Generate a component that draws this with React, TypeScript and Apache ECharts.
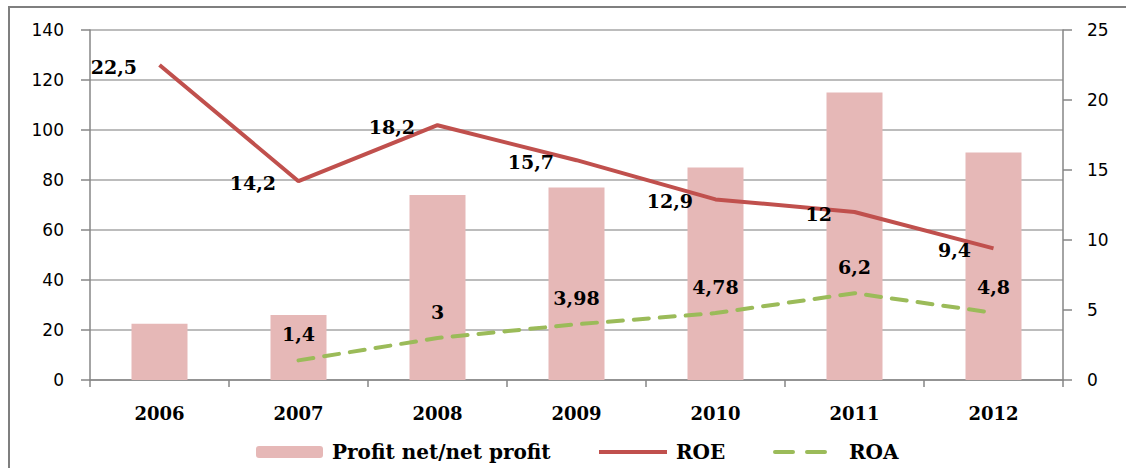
import React, { useEffect, useRef } from "react";
import * as echarts from "echarts";

const categories = ["2006", "2007", "2008", "2009", "2010", "2011", "2012"];
const profitValues = [22.5, 26, 74, 77, 85, 115, 91];
const roeValues = [22.5, 14.2, 18.2, 15.7, 12.9, 12, 9.4];
const roaValues: (number | null)[] = [null, 1.4, 3, 3.98, 4.78, 6.2, 4.8];
const roaLabels = ["", "1,4", "3", "3,98", "4,78", "6,2", "4,8"];
const roeLabels = ["22,5", "14,2", "18,2", "15,7", "12,9", "12", "9,4"];

const SERIF = "DejaVu Serif";
const SANS = "DejaVu Sans";

export default function App() {
  const ref = useRef<HTMLDivElement>(null);
  useEffect(() => {
    document.body.style.margin = "0";
    const chart = echarts.init(ref.current!, null, { renderer: "svg" });
    const labelStyle = {
      fontFamily: SERIF,
      fontWeight: "bold" as const,
      fontSize: 19,
      color: "#000",
    };
    const legendText = {
      fontFamily: SERIF,
      fontWeight: "bold" as const,
      fontSize: 20,
      color: "#000",
      padding: [0, 0, 0, 4],
    };
    chart.setOption({
      animation: false,
      backgroundColor: "#fff",
      graphic: [
        {
          type: "rect",
          shape: { x: 9, y: 7, width: 1300, height: 600 },
          style: { fill: "none", stroke: "#7f7f7f", lineWidth: 2 },
          silent: true,
        },
      ],
      grid: { left: 90, right: 63, top: 30, bottom: 88 },
      legend: [
        {
          data: ["Profit net/net profit"],
          left: 251,
          top: 437,
          itemWidth: 67,
          itemHeight: 12,
          textStyle: legendText,
        },
        {
          data: [
            {
              name: "ROE",
              itemStyle: { opacity: 0 },
              lineStyle: { width: 4, color: "#c0504d" },
            },
          ],
          left: 592,
          top: 437,
          itemWidth: 68,
          itemHeight: 12,
          textStyle: legendText,
        },
        {
          data: [
            {
              name: "ROA",
              itemStyle: { opacity: 0 },
              lineStyle: { width: 4, color: "#9bbb59", type: [18, 14], cap: "round" },
            },
          ],
          left: 768,
          top: 437,
          itemWidth: 60,
          itemHeight: 12,
          textStyle: { ...legendText, padding: [0, 0, 0, 9] },
        },
      ],
      xAxis: {
        type: "category",
        data: categories,
        axisLine: { lineStyle: { color: "#868686", width: 1.5 } },
        axisTick: { show: true, length: 7, lineStyle: { color: "#868686", width: 1.5 } },
        axisLabel: {
          margin: 24,
          fontFamily: SERIF,
          fontWeight: "bold",
          fontSize: 18,
          color: "#000",
        },
      },
      yAxis: [
        {
          type: "value",
          min: 0,
          max: 140,
          interval: 20,
          axisLine: { show: true, lineStyle: { color: "#868686", width: 1.5 } },
          axisTick: { show: true, length: 9, lineStyle: { color: "#868686", width: 1.5 } },
          splitLine: { lineStyle: { color: "#a6a6a6", width: 1.5 } },
          axisLabel: { margin: 26, fontFamily: SANS, fontSize: 17, color: "#000" },
        },
        {
          type: "value",
          min: 0,
          max: 25,
          interval: 5,
          position: "right",
          axisLine: { show: true, lineStyle: { color: "#868686", width: 1.5 } },
          axisTick: { show: true, length: 9, lineStyle: { color: "#868686", width: 1.5 } },
          splitLine: { show: false },
          axisLabel: { margin: 24, fontFamily: SANS, fontSize: 17, color: "#000" },
        },
      ],
      series: [
        {
          name: "Profit net/net profit",
          type: "bar",
          data: profitValues,
          yAxisIndex: 0,
          barWidth: 56,
          itemStyle: { color: "#e6b8b7" },
        },
        {
          name: "ROE",
          type: "line",
          data: roeValues,
          yAxisIndex: 1,
          symbol: "circle",
          symbolSize: 1,
          showSymbol: true,
          lineStyle: { color: "#c0504d", width: 4 },
          itemStyle: { color: "rgba(0,0,0,0)" },
          label: {
            show: true,
            position: "left",
            distance: 22,
            offset: [0, 2],
            ...labelStyle,
            formatter: (p: any) => roeLabels[p.dataIndex],
          },
          z: 3,
        },
        {
          name: "ROA",
          type: "line",
          data: roaValues,
          yAxisIndex: 1,
          symbol: "circle",
          symbolSize: 1,
          showSymbol: true,
          lineStyle: { color: "#9bbb59", width: 4, type: [15, 11], cap: "round" },
          itemStyle: { color: "rgba(0,0,0,0)" },
          label: {
            show: true,
            position: "top",
            distance: 16,
            ...labelStyle,
            formatter: (p: any) => roaLabels[p.dataIndex],
          },
          z: 3,
        },
      ],
    });
    return () => chart.dispose();
  }, []);
  return <div ref={ref} style={{ width: 1126, height: 468 }} />;
}
